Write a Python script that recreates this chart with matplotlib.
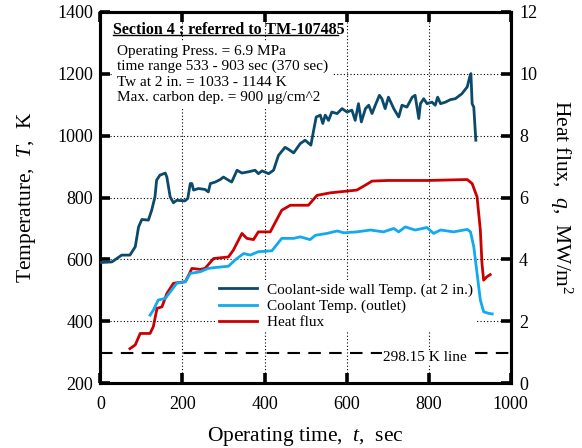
import matplotlib.pyplot as plt

plt.rcParams['font.family'] = ['Liberation Serif', 'DejaVu Serif']
plt.rcParams['mathtext.fontset'] = 'custom'
plt.rcParams['mathtext.it'] = 'Liberation Serif:italic'
plt.rcParams['mathtext.rm'] = 'Liberation Serif'

# coolant-side wall temperature at 2 in. (K)
wall_t = [0, 28, 52, 72, 85, 93, 101, 117, 125, 133, 137, 145, 158, 162, 170, 178, 186,
          206, 213, 219, 223, 227, 239, 255, 263, 268, 280, 292, 300, 312, 320, 333, 345,
          361, 377, 385, 394, 410, 422, 434, 450, 459, 471, 487, 499, 513, 519, 526, 536,
          542, 548, 556, 564, 577, 589, 601, 613, 621, 629, 636, 646, 654, 662, 670, 680,
          686, 694, 702, 715, 727, 735, 747, 760, 767, 776, 780, 788, 796, 808, 816, 822,
          829, 841, 853, 865, 881, 894, 900, 903, 906, 910, 915]
wall_T = [590, 592, 614, 614, 641, 705, 729, 727, 759, 802, 856, 872, 879, 866, 802, 783, 791,
          789, 797, 845, 845, 824, 829, 826, 818, 845, 850, 858, 866, 856, 850, 888, 879,
          883, 888, 877, 886, 877, 888, 936, 962, 955, 944, 974, 985, 969, 1012, 1060, 1066,
          1039, 1066, 1049, 1076, 1071, 1087, 1076, 1082, 1049, 1103, 1044, 1087, 1098, 1071, 1098, 1130,
          1119, 1087, 1124, 1087, 1060, 1098, 1092, 1124, 1130, 1055, 1103, 1119, 1103, 1108, 1098, 1124,
          1103, 1108, 1116, 1119, 1135, 1157, 1189, 1200, 1103, 1092, 985]

# coolant temperature at outlet (K)
cool_t = [121, 129, 141, 158, 170, 186, 207, 219, 243, 263, 280, 312, 328, 349, 365, 385, 418,
          442, 471, 487, 511, 524, 552, 577, 593, 625, 658, 690, 715, 727, 743, 767, 796,
          812, 829, 861, 894, 902, 910, 918, 926, 934, 946, 955]
cool_T = [420, 436, 469, 474, 495, 523, 528, 555, 560, 571, 574, 578, 598, 619, 614, 625, 628,
          668, 668, 673, 664, 678, 684, 692, 686, 689, 695, 689, 700, 689, 705, 695, 703,
          684, 695, 689, 697, 689, 641, 555, 469, 431, 426, 424]

# heat flux (MW/m^2)
flux_t = [72, 85, 97, 121, 129, 138, 150, 162, 178, 207, 215, 223, 243, 255, 276, 312, 324,
          345, 357, 373, 385, 414, 442, 463, 507, 528, 560, 625, 646, 662, 700, 800, 894,
          906, 918, 926, 930, 934, 942, 950]
flux_q = [1.12, 1.24, 1.61, 1.61, 1.83, 2.42, 2.47, 2.90, 3.23, 3.28, 3.49, 3.71, 3.68, 3.71, 4.03, 4.08, 4.30,
          4.84, 4.68, 4.64, 4.89, 4.89, 5.59, 5.75, 5.75, 6.07, 6.15, 6.24, 6.40, 6.53, 6.55, 6.55, 6.58,
          6.45, 6.02, 4.95, 3.87, 3.33, 3.44, 3.51]

ref_T = 298.15

title_text = 'Section 4 ; referred to TM-107485'
info_lines = ['Operating Press. = 6.9 MPa',
              'time range 533 - 903 sec (370 sec)',
              'Tw at 2 in. = 1033 - 1144 K',
              'Max. carbon dep. = 900 \u03bcg/cm^2']
legend_labels = ['Coolant-side wall Temp. (at 2 in.)', 'Coolant Temp. (outlet)', 'Heat flux']

fig = plt.figure(figsize=(5.82, 4.48), dpi=100)
ax = fig.add_axes([0.1725, 0.1444, 0.705, 0.8295])
ax2 = ax.twinx()

ax.set_xlim(0, 1000)
ax.set_ylim(200, 1400)
ax2.set_ylim(0, 12)
ax.set_xticks(range(0, 1001, 200))
ax.set_yticks(range(200, 1401, 200))
ax2.set_yticks(range(0, 13, 2))
ax.grid(True, color='black', linestyle=(0, (1, 2)), linewidth=0.8)

for a in (ax, ax2):
    for s in a.spines.values():
        s.set_linewidth(2.2)
    a.tick_params(direction='in', length=7, width=2.6, labelsize=13)
ax.tick_params(top=True, pad=5)
ax.tick_params(axis='x', pad=9)
ax2.tick_params(pad=6)

ax.axhline(ref_T, color='black', linestyle=(0, (6, 4)), linewidth=1.5, zorder=2)
ax.text(893, ref_T - 15, '298.15 K line', fontsize=11, ha='right', va='center',
        bbox=dict(facecolor='white', edgecolor='none', pad=1), zorder=3)

l1, = ax.plot(wall_t, wall_T, color='#0b4a6b', linewidth=2, zorder=4)
l2, = ax.plot(cool_t, cool_T, color='#11a9f0', linewidth=2, zorder=4)
l3, = ax2.plot(flux_t, flux_q, color='#cc0000', linewidth=2, zorder=4)

ax.set_zorder(ax2.get_zorder() + 1)
ax.patch.set_visible(False)

leg = ax.legend([l1, l2, l3], legend_labels,
                loc='upper left', bbox_to_anchor=(0.282, 0.278), fontsize=11, frameon=True,
                handlelength=2.5, handletextpad=0.6, labelspacing=0.15, borderpad=0.2,
                borderaxespad=0)
leg.get_frame().set_edgecolor('none')
leg.get_frame().set_facecolor('white')
leg.get_frame().set_alpha(1)

ax.text(30, 1342, title_text, fontsize=11.5, fontweight='bold',
        va='center', ha='left', zorder=5)
ax.plot([30, 578], [1324, 1324], color='black', linewidth=1, zorder=5)
ax.text(41, 1198, '\n'.join(info_lines), fontsize=11, va='center', ha='left', linespacing=1.22,
        bbox=dict(facecolor='white', edgecolor='none', pad=3), zorder=3)

ax.set_xlabel('Operating time,  $t$,  sec', fontsize=15.5, labelpad=9)
ax.set_ylabel('Temperature,  $T$,  K', fontsize=15.5, labelpad=14)
ax2.set_ylabel('Heat flux,  $q$,  MW/m$^2$', fontsize=15.5, rotation=270, labelpad=27)

fig.savefig('out.png', dpi=100)
